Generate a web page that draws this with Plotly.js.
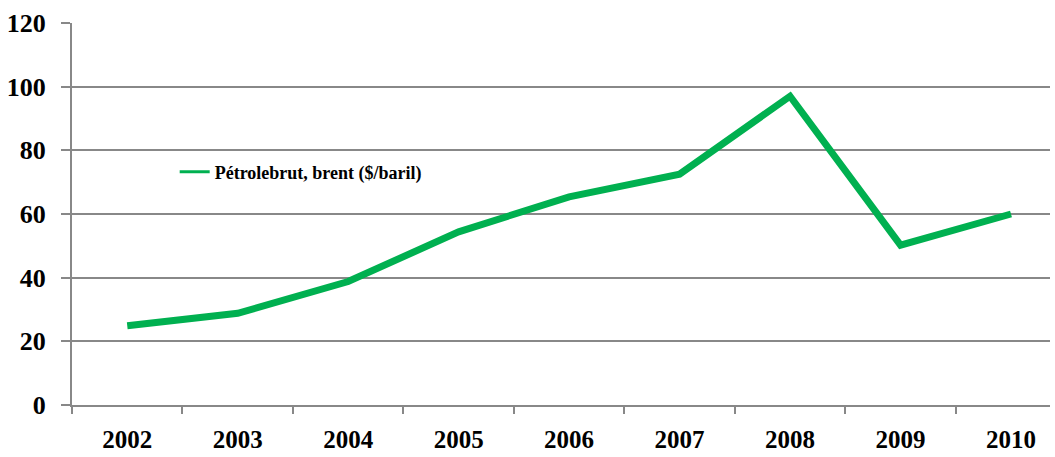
<!DOCTYPE html>
<html>
<head>
<meta charset="utf-8">
<script src="https://cdn.plot.ly/plotly-3.0.1.min.js"></script>
<style>html,body{margin:0;padding:0;background:#fff;}#chart{width:1055px;height:457px;}</style>
</head>
<body>
<div id="chart"></div>
<script>
const years = ['2002','2003','2004','2005','2006','2007','2008','2009','2010'];
const brent = [24.9, 28.8, 38.8, 54.4, 65.4, 72.5, 97.0, 50.2, 60.0];
const seriesName = 'Pétrolebrut, brent ($/baril)';
const yTicks = [0, 20, 40, 60, 80, 100, 120];

const green = '#00B050';
const serif = 'Liberation Serif, DejaVu Serif, serif';
const traces = [
  {x: years, y: brent, type: 'scatter', mode: 'lines', name: seriesName,
   line: {color: green, width: 7}, showlegend: false, hoverinfo: 'x+y'},
  {x: [years[0]], y: [null], type: 'scatter', mode: 'lines', name: seriesName,
   line: {color: green, width: 3}, showlegend: true}
];

const layout = {
  width: 1055, height: 457,
  margin: {l: 72, r: 5, t: 23, b: 52},
  paper_bgcolor: '#fff', plot_bgcolor: '#fff',
  font: {family: serif, color: '#000'},
  xaxis: {
    type: 'category', categoryorder: 'array', categoryarray: years,
    range: [-0.5, 8.353],
    tickson: 'boundaries', ticks: 'outside', ticklen: 7, tickwidth: 2, tickcolor: '#888',
    showline: true, linecolor: '#888', linewidth: 2,
    showgrid: false, zeroline: false,
    tickfont: {size: 25, family: serif, weight: 'bold', color: '#000'},
    ticklabelstandoff: 11
  },
  yaxis: {
    range: [0, 120], tickvals: yTicks, ticktext: yTicks.map(String),
    ticks: 'outside', ticklen: 9, tickwidth: 2, tickcolor: '#888',
    showline: true, linecolor: '#888', linewidth: 2,
    showgrid: true, gridcolor: '#888', gridwidth: 2, zeroline: false,
    tickfont: {size: 26, family: serif, weight: 'bold', color: '#000'},
    ticklabelstandoff: 10
  },
  showlegend: true,
  legend: {
    x: 0.105, y: 0.61, xanchor: 'left', yanchor: 'middle',
    bgcolor: 'rgba(0,0,0,0)', borderwidth: 0,
    font: {size: 18, family: serif, weight: 'bold', color: '#000'},
    itemwidth: 30
  }
};

Plotly.newPlot('chart', traces, layout, {displayModeBar: false, staticPlot: true});
</script>
</body>
</html>
